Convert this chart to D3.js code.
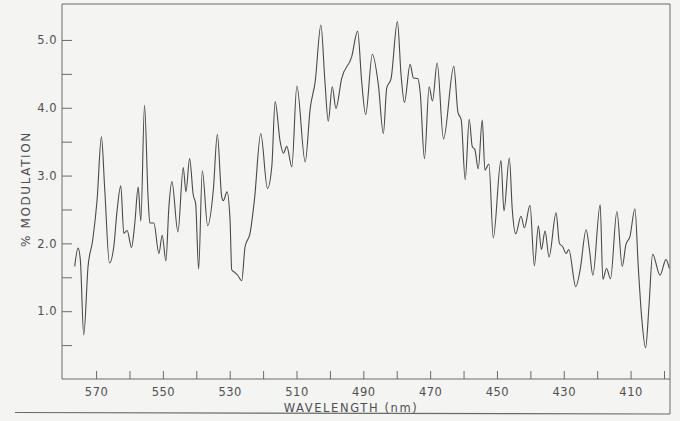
<!DOCTYPE html>
<html>
<head>
<meta charset="utf-8">
<script src="https://cdn.jsdelivr.net/npm/d3@7"></script>
<style>
  html, body { margin: 0; padding: 0; background: #f4f4f2; }
  svg { display: block; }
  text { font-family: "DejaVu Sans", sans-serif; fill: #505050; }
</style>
</head>
<body>
<svg id="chart" width="680" height="421"></svg>
<script>
// wavelength (nm)
const wavelength = [
  576.4, 575.4, 574.7, 573.7, 572.4, 571.0, 569.7, 568.4, 567.4, 566.0,
  564.7, 563.7, 562.6, 561.7, 560.7, 559.4, 558.4, 557.4, 556.6, 555.5,
  554.4, 553.9, 552.7, 551.2, 550.2, 549.1, 548.2, 547.3, 545.5, 543.9,
  543.1, 542.0, 540.9, 540.2, 539.3, 538.2, 536.6, 534.9, 533.7, 532.4,
  531.9, 530.8, 529.9, 529.4, 528.4, 527.6, 526.4, 525.4, 523.9, 522.6,
  520.7, 518.7, 517.4, 516.4, 514.9, 513.9, 512.9, 511.4, 509.9, 507.4,
  505.9, 504.4, 502.7, 501.5, 500.5, 499.3, 498.2, 496.5, 493.5, 491.7,
  490.5, 489.3, 487.3, 485.5, 484.0, 483.0, 481.7, 479.8, 478.7, 477.7,
  476.0, 475.0, 473.7, 473.0, 471.7, 470.3, 469.3, 467.9, 466.0, 462.9,
  461.7, 460.7, 459.5, 458.3, 457.4, 456.6, 455.6, 454.4, 453.6, 452.4,
  451.1, 448.8, 447.9, 446.3, 445.4, 444.4, 442.8, 441.8, 440.1, 438.8,
  437.6, 436.7, 435.6, 434.4, 432.3, 431.3, 430.3, 429.3, 428.5, 426.4,
  425.1, 423.3, 422.3, 421.3, 419.1, 418.3, 417.2, 416.0, 414.1, 412.5,
  411.4, 410.2, 408.7, 407.7, 406.7, 405.5, 404.5, 403.4, 401.2, 399.4,
  398.4
];
// % modulation
const modulation = [
  1.66, 1.93, 1.75, 0.65, 1.66, 2.05, 2.64, 3.57, 2.79, 1.71,
  1.95, 2.49, 2.85, 2.15, 2.19, 1.94, 2.30, 2.83, 2.33, 4.04,
  2.64, 2.30, 2.30, 1.85, 2.12, 1.74, 2.54, 2.91, 2.17, 3.12,
  2.76, 3.25, 2.71, 2.59, 1.62, 3.07, 2.26, 2.79, 3.61, 2.69,
  2.63, 2.76, 2.35, 1.61, 1.57, 1.53, 1.45, 1.95, 2.15, 2.64,
  3.62, 2.81, 3.13, 4.09, 3.50, 3.33, 3.43, 3.13, 4.32, 3.20,
  3.99, 4.39, 5.22, 4.39, 3.80, 4.31, 3.99, 4.43, 4.75, 5.13,
  4.39, 3.90, 4.79, 4.34, 3.62, 4.29, 4.43, 5.27, 4.48, 4.08,
  4.64, 4.44, 4.43, 4.24, 3.25, 4.31, 4.10, 4.66, 3.54, 4.61,
  3.94, 3.82, 2.94, 3.83, 3.43, 3.38, 3.10, 3.82, 3.08, 3.17,
  2.08, 3.22, 2.48, 3.26, 2.49, 2.14, 2.40, 2.23, 2.56, 1.67,
  2.26, 1.91, 2.18, 1.80, 2.45, 2.00, 1.95, 1.85, 1.91, 1.36,
  1.61, 2.20, 1.90, 1.53, 2.57, 1.47, 1.63, 1.48, 2.47, 1.66,
  1.98, 2.10, 2.51, 1.66, 0.92, 0.46, 1.07, 1.84, 1.53, 1.76,
  1.63
];
const xTickValues = [570, 560, 550, 540, 530, 520, 510, 500, 490, 480, 470, 460, 450, 440, 430, 420, 410, 400];
const xTickLabels = ["570", "", "550", "", "530", "", "510", "", "490", "", "470", "", "450", "", "430", "", "410", ""];
const yTickValues = [0.5, 1.0, 1.5, 2.0, 2.5, 3.0, 3.5, 4.0, 4.5, 5.0];
const yTickLabels = ["", "1.0", "", "2.0", "", "3.0", "", "4.0", "", "5.0"];
const xTitle = "WAVELENGTH (nm)";
const yTitle = "% MODULATION";

(function () {
const svg = d3.select("#chart");
const mL = 62, mR = 670, mT = 4, mB = 379;

const x = d3.scaleLinear().domain([580.2, 398.2]).range([mL, mR]);
const y = d3.scaleLinear().domain([0, 5.53]).range([mB, mT]);

const axisColor = "#6a6a6a";

// frame
svg.append("line").attr("x1", mL).attr("x2", mR).attr("y1", mT).attr("y2", mT)
  .attr("stroke", axisColor).attr("stroke-width", 1);
svg.append("line").attr("x1", mR).attr("x2", mR).attr("y1", mT).attr("y2", 414)
  .attr("stroke", axisColor).attr("stroke-width", 1);
svg.append("line").attr("x1", 15).attr("x2", mR).attr("y1", 412.5).attr("y2", 414)
  .attr("stroke", axisColor).attr("stroke-width", 1.2);

// x axis
const xAxis = d3.axisTop(x).tickValues(xTickValues)
  .tickFormat((d, i) => xTickLabels[i]).tickSize(8).tickSizeOuter(0);
const gx = svg.append("g").attr("transform", `translate(0,${mB})`).call(xAxis);
gx.select(".domain").attr("stroke", axisColor).attr("d", `M${mL},0H${mR}`);
gx.selectAll(".tick line").attr("stroke", axisColor);
gx.selectAll(".tick text").attr("y", 17).attr("dy", 0)
  .attr("font-size", 11.5).attr("fill", "#505050").style("font-family", "DejaVu Sans, sans-serif")
  .attr("letter-spacing", 0.5);

// y axis
const yAxis = d3.axisRight(y).tickValues(yTickValues)
  .tickFormat((d, i) => yTickLabels[i]).tickSize(10).tickSizeOuter(0);
const gy = svg.append("g").attr("transform", `translate(${mL},0)`).call(yAxis);
gy.select(".domain").attr("stroke", axisColor).attr("d", `M0,${mT}V${mB}`);
gy.selectAll(".tick line").attr("stroke", axisColor);
gy.selectAll(".tick text").attr("x", -5).attr("text-anchor", "end")
  .attr("font-size", 11.5).attr("fill", "#505050").style("font-family", "DejaVu Sans, sans-serif")
  .attr("letter-spacing", 0.5);

// titles
svg.append("text").attr("x", 351).attr("y", 412).attr("text-anchor", "middle")
  .attr("font-size", 11.5).attr("letter-spacing", 1.6).text(xTitle);
svg.append("text").attr("transform", "translate(30,189) rotate(-90)").attr("text-anchor", "middle")
  .attr("font-size", 12).attr("letter-spacing", 1.6).text(yTitle);

// curve
const pts = wavelength.map((w, i) => [w, modulation[i]]);
const line = d3.line().x(d => x(d[0])).y(d => y(d[1])).curve(d3.curveMonotoneX);
svg.append("path").datum(pts).attr("d", line)
  .attr("fill", "none").attr("stroke", "#4a4a4a").attr("stroke-width", 1.1)
  .attr("stroke-linejoin", "round");
})();
</script>
</body>
</html>
